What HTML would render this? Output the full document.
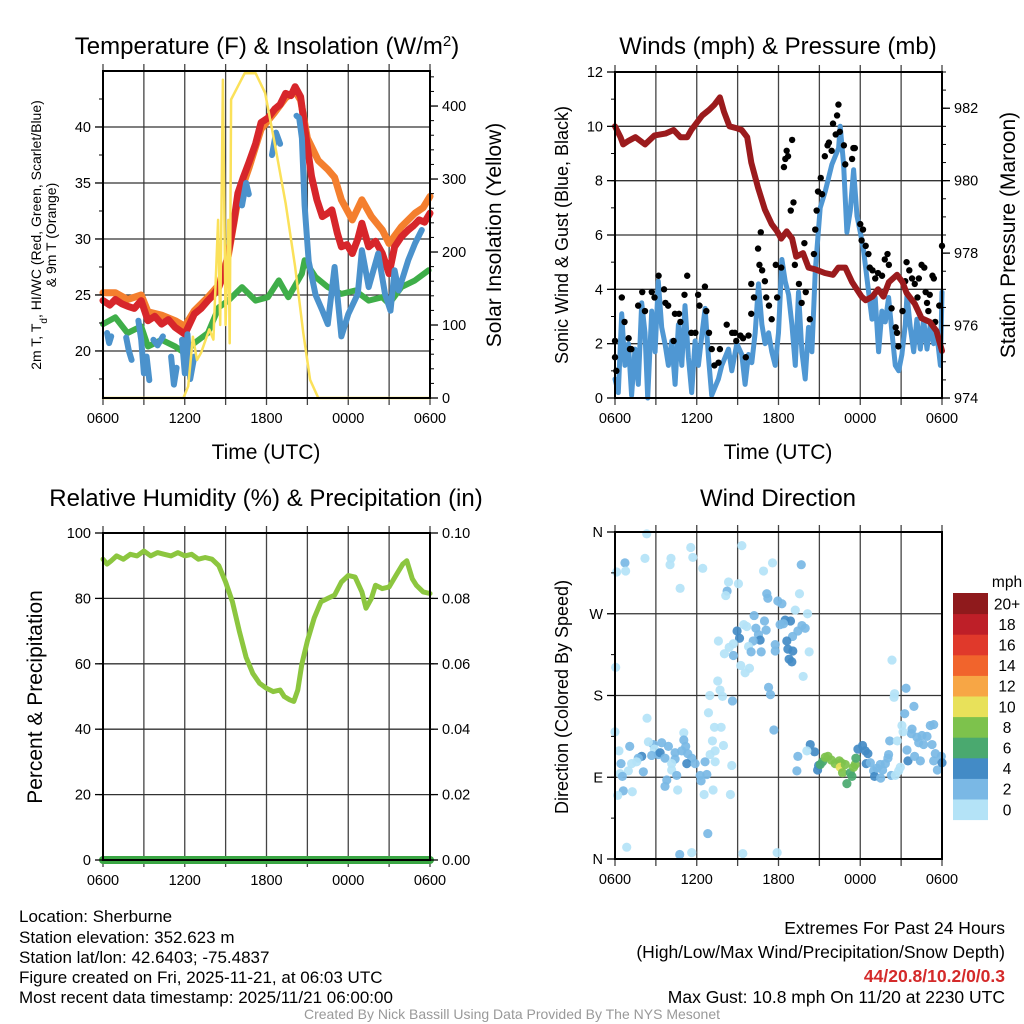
<!DOCTYPE html>
<html><head><meta charset="utf-8"><style>
html,body{margin:0;padding:0;background:#fff;}
svg{display:block;font-family:"Liberation Sans",Arial,sans-serif;}
</style></head><body>
<svg id="chart" width="1024" height="1024" viewBox="0 0 1024 1024" xmlns="http://www.w3.org/2000/svg">
<rect width="1024" height="1024" fill="#fff"/>
<g id="layer"></g>
<text x="267" y="54" font-size="24" text-anchor="middle">Temperature (F) &amp; Insolation (W/m<tspan baseline-shift="super" font-size="15">2</tspan>)</text>
<text x="778" y="54" font-size="24" text-anchor="middle">Winds (mph) &amp; Pressure (mb)</text>
<text x="266" y="506" font-size="24" text-anchor="middle">Relative Humidity (%) &amp; Precipitation (in)</text>
<text x="778" y="506" font-size="24" text-anchor="middle">Wind Direction</text>
<text x="266" y="459" font-size="21" text-anchor="middle">Time (UTC)</text>
<text x="778" y="459" font-size="21" text-anchor="middle">Time (UTC)</text>
<text transform="translate(41,235) rotate(-90)" font-size="14" text-anchor="middle">2m T, T<tspan baseline-shift="sub" font-size="10">d</tspan>, HI/WC (Red, Green, Scarlet/Blue)</text>
<text transform="translate(56,235) rotate(-90)" font-size="14" text-anchor="middle">&amp; 9m T (Orange)</text>
<text transform="translate(501,235) rotate(-90)" font-size="21" text-anchor="middle">Solar Insolation (Yellow)</text>
<text transform="translate(568,235) rotate(-90)" font-size="18" text-anchor="middle">Sonic Wind &amp; Gust (Blue, Black)</text>
<text transform="translate(1015,235) rotate(-90)" font-size="21" text-anchor="middle">Station Pressure (Maroon)</text>
<text transform="translate(42,697) rotate(-90)" font-size="21" text-anchor="middle">Percent &amp; Precipitation</text>
<text transform="translate(568,697) rotate(-90)" font-size="18" text-anchor="middle">Direction (Colored By Speed)</text>
<g font-size="17">
<text x="19" y="922">Location: Sherburne</text>
<text x="19" y="943">Station elevation: 352.623 m</text>
<text x="19" y="963">Station lat/lon: 42.6403; -75.4837</text>
<text x="19" y="983">Figure created on Fri, 2025-11-21, at 06:03 UTC</text>
<text x="19" y="1003">Most recent data timestamp: 2025/11/21 06:00:00</text>
</g>
<g font-size="17.5" text-anchor="end">
<text x="1005" y="934">Extremes For Past 24 Hours</text>
<text x="1005" y="958">(High/Low/Max Wind/Precipitation/Snow Depth)</text>
<text x="1005" y="982" fill="#d42a2a" font-weight="bold">44/20.8/10.2/0/0.3</text>
<text x="1005" y="1003">Max Gust: 10.8 mph On 11/20 at 2230 UTC</text>
</g>
<text x="512" y="1019" font-size="14" fill="#999" text-anchor="middle">Created By Nick Bassill Using Data Provided By The NYS Mesonet</text>
</svg>
<script>
// ---- Temperature panel data (hours since 0600 UTC) ----
const redHours=[0,0.5,0.9,1.4,1.8,2.3,2.8,3.3,3.8,4.3,4.8,5.3,6,6.7,7.2,7.7,8.1,8.5,8.9,9.2,9.6,9.9,10.3,10.7,11.2,11.6,12.1,12.6,13,13.4,13.8,14.1,14.5,14.8,15.3,15.7,16.1,16.5,16.8,17.2,17.5,17.9,18.3,18.7,19,19.5,20,20.5,21,21.4,21.9,22.4,22.8,23.2,23.6,24];
const redVals=[24.5,24.1,24.6,24.2,24,23.8,24.5,22.7,23.1,22.4,22.8,22.1,21.5,23.3,23.8,24.5,25,25.7,27,28.7,31.5,34.1,35.5,36.8,38.5,40.4,40.8,41.6,42,43,42.8,43.6,42.7,40,35.6,33.5,32,32.3,32.6,30.5,29.3,29.5,28.7,30,31.4,29.3,29.8,28.7,26.9,29.3,30.2,30.8,31.2,31.7,31.5,32.3];
const orangeHours=[0,0.9,1.8,2.8,3.3,4.3,5.3,6,6.7,7.7,8.5,9.2,9.9,10.7,11.6,12.6,13.4,14.1,14.5,15,15.8,16.5,17,17.5,18.3,19,19.7,20.5,21,21.9,22.9,23.5,24];
const orangeVals=[25.2,25.2,24.6,25,23.5,23.2,22.7,22.2,23.6,24.8,25.9,28.5,33.5,36.3,39.8,41.3,42.6,43.2,42.4,39,37,36.2,35.5,33.5,31.7,33.5,32,30.8,29.6,31.1,32.3,32.8,33.8];
const blueHours=[0.3,0.45,0.6,1.0,1.7,1.9,2.1,2.3,2.6,2.8,3.0,3.2,3.4,3.5,3.7,4.0,4.4,4.6,5.0,5.2,5.4,5.6,5.8,6.0,6.2,6.4,6.7,7,10.2,10.5,10.7,11,12.4,12.7,13.0,13.5,14.2,14.4,14.6,14.8,15.1,15.6,16.1,16.5,17,17.5,18,18.7,19,19.5,20.2,20.7,21.1,21.4,21.7,22.4,22.9,23.4];
const blueVals=[21.6,20.7,21.3,null,21.2,20,19.2,null,22.7,21,18,19.5,17.4,null,21,20.5,21.3,null,19.5,17,18.5,null,21,18,21.5,17.5,19.5,null,33,35,34,null,37.5,39.5,38.5,null,41,40.8,39,33,28,25,23.6,22.4,27.5,21.3,23.3,25.1,29,25.7,28.7,25.1,23.6,27.2,25.4,28.1,29.6,30.8];
const greenHours=[0,0.9,1.8,2.8,3.3,4.3,5.3,6,6.7,7.7,8.5,9.2,10.2,11.2,12.1,12.9,13.6,14.6,14.8,15.6,16.5,17.5,18.5,19.5,20.5,21,21.9,22.9,23.9];
const greenVals=[22.4,23,21.6,22.2,20.4,21,20.4,19.8,20.7,21.6,23.9,24.5,25.7,24.5,24.8,26.3,24.8,26.9,28.1,26.6,25.7,25.1,25.4,24.5,24.8,24.2,25.7,26.3,27.2];
const solarHours=[0,5.9,6.25,6.6,6.9,7.2,7.8,8.1,8.45,8.6,8.8,9.0,9.2,9.3,9.4,9.9,10.4,11.2,11.9,12.6,13.4,14.1,14.7,15.2,15.8,24];
const solarVals=[0,0,16,84,52,62,94,80,244,100,436,100,244,75,409,427,445,445,418,349,267,180,89,25,0,0];
const tempTicks=[20,25,30,35,40];
const solarTicks=[0,100,200,300,400];
const timeLabels=["0600","1200","1800","0000","0600"];
// ---- Winds panel data ----
const windHours=[0,0.24,0.49,0.73,0.98,1.22,1.47,1.71,1.96,2.2,2.4,2.69,2.94,3.18,3.43,3.67,3.92,4.16,4.41,4.65,4.9,5.14,5.39,5.63,5.88,6.12,6.37,6.61,6.86,7.1,7.59,7.84,8.33,8.57,8.94,9.31,9.55,9.8,10.04,10.29,10.53,10.78,11.02,11.27,11.51,11.76,12.0,12.25,12.49,12.74,12.98,13.23,13.47,13.72,13.96,14.2,14.45,14.7,15.06,15.43,15.92,16.41,16.53,16.78,17.02,17.27,17.51,17.76,18.0,18.25,18.61,18.86,19.1,19.35,19.59,19.84,20.08,20.33,20.57,20.82,21.06,21.31,21.43,21.67,21.92,22.16,22.41,22.65,22.9,23.14,23.39,23.63,23.88,24];
const windVals=[0.7,0.2,3.1,1.2,2.0,0.1,1.8,0.5,3.5,2.4,0,3.2,1.7,4.3,2.6,2.0,1.2,2.1,0.5,2.7,1.2,3.4,1.5,0.2,2.1,1.2,2.3,3.3,1.5,0.1,0.7,1.2,1.8,1.0,2.0,1.6,0.5,1.6,1.3,2.4,4.2,2.7,2.0,2.4,1.7,1.2,2.4,5.1,4.3,3.8,2.7,1.2,3.9,1.7,0.7,2.6,1.7,4.7,7.0,7.6,8.6,9.2,10.0,8.6,6.1,6.9,8.4,6.7,6.1,5.4,3.9,2.9,3.7,1.7,3.2,2.8,3.7,2.4,1.2,1.0,1.6,2.7,3.8,2.6,1.7,2.9,1.8,2.9,1.8,2.7,2.0,2.3,1.2,3.9];
const gustHours=[0,0,0.1,0.5,0.7,1.0,1.1,1.2,1.7,2.0,2.2,2.7,2.9,3.2,3.6,3.7,3.9,4.3,4.4,4.7,4.8,5.1,5.3,5.6,5.9,6.1,6.2,6.6,6.7,6.9,7.1,7.3,7.6,7.7,8.2,8.6,8.8,8.9,9.2,9.4,9.6,9.8,10.0,10.2,10.0,10.5,10.6,10.7,10.8,11.0,11.1,11.3,11.5,11.8,11.9,12.2,12.4,12.5,12.6,12.7,12.9,13.0,13.1,13.2,13.5,13.7,13.9,14.0,14.3,14.6,14.7,14.8,14.9,15.1,15.2,15.4,15.6,15.7,15.9,16.0,16.2,16.3,16.4,16.5,16.8,16.9,17.4,17.5,17.6,18.0,18.1,18.2,18.4,18.6,18.7,18.9,19.1,19.3,19.6,19.8,20.0,20.1,20.3,20.6,20.7,20.8,21.1,21.3,21.4,21.6,21.8,22.0,22.2,22.3,22.5,22.7,22.8,22.9,23.0,23.1,23.3,23.4,23.5,23.8,24.0];
const gustVals=[2.1,1.5,1.0,3.7,2.8,2.2,1.8,1.8,3.4,3.9,3.2,3.9,3.7,4.5,4.0,3.5,3.4,2.1,3.1,3.1,2.8,3.8,4.5,2.4,2.4,3.8,3.4,4.1,3.2,2.4,1.8,1.2,1.3,1.8,2.7,2.4,2.4,2.1,2.3,2.2,1.5,2.3,3.1,3.7,4.2,5.5,4.9,6.1,4.7,4.3,3.7,3.4,2.9,4.9,3.7,4.8,8.5,8.8,9.1,8.9,6.9,9.5,7.2,4.9,4.2,3.5,5.7,3.9,2.9,5.3,6.2,6.9,7.6,8.1,7.5,8.9,9.3,9.4,9.1,10.1,9.7,10.4,10.8,9.8,9.3,8.6,8.8,9.2,9.2,6.4,5.8,6.2,5.6,5.3,4.8,4.7,4.4,4.6,4.5,5.1,5.3,4.9,3.3,2.6,2.4,1.9,3.2,4.3,5.0,4.7,4.4,4.2,3.7,4.4,4.9,4.8,3.9,3.5,3.2,3.8,4.5,4.4,2.8,3.4,5.6];
const presHours=[0,0.4,0.6,1.0,1.5,2.2,2.9,3.7,4.3,4.8,5.3,5.6,6.4,6.9,7.3,7.7,8.0,8.4,8.9,9.3,9.7,10.0,10.5,11.0,11.5,11.9,12.2,12.6,13.0,13.3,13.8,14.2,14.7,15.4,16.0,16.4,16.9,17.4,18.1,18.4,18.9,19.3,19.7,20.1,20.7,21.1,21.4,22.0,22.5,23.1,23.6,24.0];
const presVals=[981.5,981.2,981.0,981.1,981.2,981.0,981.25,981.3,981.4,981.2,981.2,981.4,981.8,981.95,982.1,982.3,981.9,981.5,981.45,981.4,981.2,980.5,979.8,979.2,978.8,978.6,978.4,978.6,978.4,977.9,978.0,977.6,977.55,977.45,977.4,977.6,977.6,977.2,976.8,976.7,976.8,977.0,976.8,977.2,977.4,977.2,976.9,976.6,976.2,976.1,975.85,975.3];
const windTicks=[0,2,4,6,8,10,12];
const presTicks=[974,976,978,980,982];
// ---- Humidity panel data ----
const rhHours=[0,0.3,0.6,1,1.5,2,2.5,3,3.5,4,4.5,5,5.5,6,6.5,7,7.5,8,8.5,9,9.5,10,10.5,11,11.5,12,12.5,13,13.3,13.7,14,14.3,14.6,15,15.5,16,16.5,17,17.5,18,18.5,19,19.3,19.7,20,20.5,21,21.5,22,22.3,22.7,23,23.5,24];
const rhVals=[92,90.5,91.5,93,92,93.5,93,94.5,93,94,93.5,93,94,93,93.5,92,92.5,92,90,85,79,70,62,57,54,52.5,51.5,52,50,49,48.5,52,60,67,74,79,80,81,85,87,86.5,82,77,80,84,83,83.5,87,90.5,91.5,86,84,82,81.5];
const precipHours=[0,24];
const precipVals=[0,0];
const rhTicks=[0,20,40,60,80,100];
const precipTicks=["0.00","0.02","0.04","0.06","0.08","0.10"];
// ---- Wind direction panel data ----
const dirHours=[2.33,0.73,0.12,0.78,2.2,4.11,4.04,5.56,5.71,4.78,6.44,9.31,10.9,11.56,13.67,8.33,9.06,8.23,8.13,11.14,11.22,11.95,12.25,13.54,13.23,14.13,10.21,10.97,9.45,9.67,12.49,12.88,12.37,12.12,13.72,13.96,13.42,13.03,8.96,10.34,11.09,10.53,10.65,10.14,9.14,7.59,8.69,8.38,9.8,9.99,10.73,11.76,11.76,12.61,12.69,13.05,12.78,12.98,14.25,8.03,8.69,9.23,9.87,9.55,13.81,20.33,0.05,7.54,7.71,7.89,6.96,11.27,11.41,8.62,21.36,20.48,20.52,21.94,21.26,2.35,6.86,7.3,7.79,11.66,0,5.05,7.15,7.96,5.05,5.19,21.06,21.8,21.75,22.16,22.53,22.9,23.14,23.39,22.29,22.65,23.27,21.14,20.16,20.72,1.08,0.29,2.82,3.43,3.92,2.45,2.89,4.41,4.9,5.34,5.63,1.96,1.71,2.69,3.18,3.31,4.41,3.67,4.16,5.27,5.88,6.61,7.35,6.98,7.35,8.57,0.44,1.22,1.59,0.98,2.08,4.16,4.53,3.8,3.67,6.25,6.74,6.32,0.37,0.54,0.61,0.2,1.27,4.6,6.54,7.2,8.47,14.33,14.65,13.42,13.35,14.08,14.94,14.87,15.23,15.06,15.43,15.63,15.87,16.16,16.46,16.61,16.53,16.9,16.7,17.27,17.39,17.02,17.51,17.63,17.68,17.83,18.17,18.37,18.56,18.44,18.74,18.98,19.05,19.23,19.47,19.64,19.84,20.03,20.08,19.5,20.28,20.57,20.82,20.94,21.43,21.5,21.99,22.41,23.39,23.51,23.66,23.95,24,6.81,0.86,4.75,5.63,9.38,11.9];
const dirVals=[358,326,316,317,331,331,324,343,332,298,320,345,317,326,324,305,303,295,290,292,287,284,281,292,274,270,268,262,258,256,263,262,259,258,257,254,251,245,251,254,252,247,241,240,243,240,237,233,234,228,228,236,229,240,231,229,220,217,228,226,224,213,210,205,201,219,211,196,186,179,180,189,181,174,188,178,182,168,160,155,161,145,145,142,140,139,130,125,131,124,147,143,138,134,136,135,147,148,128,126,126,140,130,130,124,119,126,128,124,129,121,117,119,116,111,113,111,114,115,117,110,111,105,105,105,107,107,115,119,103,105,105,107,97,96,98,92,87,80,92,93,86,94,91,75,70,74,76,71,76,71,126,118,113,97,119,103,98,107,104,112,113,109,105,108,106,101,104,95,95,91,83,101,104,111,121,125,119,116,105,106,97,91,100,104,98,105,111,115,89,92,92,97,101,120,108,113,108,108,116,98,113,106,28,13,5,7,6,7];
const dirSpeeds=[1,3,1,1,1,1,1,1,1,1,1,1,1,1,3,1,1,3,1,3,3,3,3,1,1,1,3,3,1,1,5,5,3,3,3,3,3,3,5,3,3,3,5,3,5,1,1,1,1,3,3,3,3,5,5,5,5,5,1,1,3,1,1,1,1,1,1,1,1,1,1,3,3,3,3,1,1,3,3,1,1,1,1,3,1,1,1,1,3,3,1,3,3,3,3,3,3,3,3,3,3,1,3,1,3,1,3,3,3,1,1,3,3,3,3,5,3,3,3,5,3,3,1,5,3,3,1,1,1,1,3,1,1,1,3,1,3,3,3,3,3,3,1,3,3,1,1,1,1,1,1,5,5,3,3,1,5,5,7,7,9,9,9,9,9,9,11,9,9,7,7,7,9,9,7,5,5,5,5,5,3,3,5,3,3,3,3,3,3,3,3,1,1,1,3,5,3,3,3,3,3,3,5,3,1,3,1,1,1];
const dirTicks=["N","E","S","W","N"];
const speedLabels=["0","2","4","6","8","10","12","14","16","18","20+"];
const speedColors=["#b4e3f7","#7ab8e5","#438bc6","#4aa96f","#7dc24c","#e8e15a","#f7a645","#f1642c","#e0392b","#be1f28","#8f1a1c"];

const NS="http://www.w3.org/2000/svg";
const layer=document.getElementById('layer');
function mk(tag,attrs,parent){const e=document.createElementNS(NS,tag);for(const k in attrs)e.setAttribute(k,attrs[k]);(parent||layer).appendChild(e);return e;}
function lin(d0,d1,r0,r1){return v=>r0+(v-d0)/(d1-d0)*(r1-r0);}

function frame(P,name){
  const g=mk('g',{});
  
  
  for(let h=0;h<=24;h+=3){
    const x=P.x(h);
    const l=mk('line',{x1:x,x2:x,y1:P.y0-7,y2:P.y1+7,stroke:'#444','stroke-width':1.3},g);
    
    
  }
  for(let i=0;i<timeLabels.length;i++){
    const t=mk('text',{x:P.x(i*6),y:P.y1+25,'font-size':14.5,'text-anchor':'middle'},g);
    t.textContent=timeLabels[i];
    
    
  }
  return g;
}
function hgrid(g,P,ys){ys.forEach(y=>{const l=mk('line',{x1:P.x0,x2:P.x1,y1:y,y2:y,stroke:'#333','stroke-width':1.3},g);
  
  });}
function box(P){const r=mk('rect',{x:P.x0,y:P.y0,width:P.x1-P.x0,height:P.y1-P.y0,fill:'none',stroke:'#000','stroke-width':2});
  
  }
function leftAxis(P,ticks,labels,minorStep,lo,hi,name){
  const g=mk('g',{});
  
  
  for(let v=lo;v<=hi+1e-9;v+=minorStep){const y=P.ly(v);mk('line',{x1:P.x0-4,x2:P.x0,y1:y,y2:y,stroke:'#000','stroke-width':1},g);}
  ticks.forEach((v,i)=>{const y=P.ly(v);mk('line',{x1:P.x0-8,x2:P.x0,y1:y,y2:y,stroke:'#000','stroke-width':1.3},g);
    const t=mk('text',{x:P.x0-12,y:y+5,'font-size':14.5,'text-anchor':'end'},g);t.textContent=labels?labels[i]:v;
    
    });
}
function rightAxis(P,sc,ticks,labels,minorStep,lo,hi,name){
  const g=mk('g',{});
  
  
  for(let v=lo;v<=hi+1e-9;v+=minorStep){const y=sc(v);mk('line',{x1:P.x1,x2:P.x1+4,y1:y,y2:y,stroke:'#000','stroke-width':1},g);}
  ticks.forEach((v,i)=>{const y=sc(v);mk('line',{x1:P.x1,x2:P.x1+8,y1:y,y2:y,stroke:'#000','stroke-width':1.3},g);
    const t=mk('text',{x:P.x1+12,y:y+5,'font-size':14.5,'text-anchor':'start'},g);t.textContent=labels?labels[i]:v;
    
    });
}
function line(P,hs,vs,sc,color,w,name){
  let d='',pen=false;
  for(let i=0;i<hs.length;i++){
    if(vs[i]===null){pen=false;continue;}
    d+=(pen?'L':'M')+P.x(hs[i]).toFixed(1)+' '+sc(vs[i]).toFixed(1)+' ';pen=true;
  }
  const p=mk('path',{d:d,fill:'none',stroke:color,'stroke-width':w,'stroke-linejoin':'round','stroke-linecap':'round'});
  
  
  return p;
}

// Panel 1: temperature
const P1={x0:103,x1:430,y0:71,y1:398};P1.x=lin(0,24,P1.x0,P1.x1);P1.ly=lin(15.8,45,P1.y1,P1.y0);
const sol=lin(0,448,P1.y1,P1.y0);
let g1=frame(P1,'temperature');hgrid(g1,P1,tempTicks.map(P1.ly));
line(P1,orangeHours,orangeVals,P1.ly,'#f47f2e',7,'line-9m-temp');
line(P1,redHours,redVals,P1.ly,'#d7262b',7,'line-2m-temp');
line(P1,greenHours,greenVals,P1.ly,'#3fae49',6,'line-dewpoint');
line(P1,blueHours,blueVals,P1.ly,'#4b92cc',6,'line-wind-chill');
line(P1,solarHours,solarVals,sol,'#fbe15a',2.5,'line-solar-insolation');
box(P1);
leftAxis(P1,tempTicks,null,2.5,17.5,42.5,'temperature-left-axis');
rightAxis(P1,sol,solarTicks,null,20,0,440,'solar-right-axis');

// Panel 2: winds
const P2={x0:615,x1:942,y0:72,y1:398};P2.x=lin(0,24,P2.x0,P2.x1);P2.ly=lin(0,12,P2.y1,P2.y0);
const pres=lin(974,983,P2.y1,P2.y0);
let g2=frame(P2,'winds');hgrid(g2,P2,windTicks.map(P2.ly));
line(P2,windHours,windVals,P2.ly,'#4f97d3',5,'line-sonic-wind');
const gg=mk('g',{});


for(let i=0;i<gustHours.length;i++){
  const c=mk('circle',{cx:P2.x(gustHours[i]),cy:P2.ly(gustVals[i]),r:3.2,fill:'#000'},gg);
  
  
}
line(P2,presHours,presVals,pres,'#9b1b1d',6,'line-station-pressure');
box(P2);
leftAxis(P2,windTicks,null,1,0,12,'wind-left-axis');
rightAxis(P2,pres,presTicks,null,0.5,974,983,'pressure-right-axis');

// Panel 3: humidity
const P3={x0:103,x1:430,y0:533,y1:860};P3.x=lin(0,24,P3.x0,P3.x1);P3.ly=lin(0,100,P3.y1,P3.y0);
const pr=lin(0,0.1,P3.y1,P3.y0);
let g3=frame(P3,'humidity');hgrid(g3,P3,rhTicks.map(P3.ly));
line(P3,rhHours,rhVals,P3.ly,'#8cc63f',5,'line-relative-humidity');
line(P3,precipHours,precipVals,pr,'#3aa643',8,'line-precipitation');
box(P3);
leftAxis(P3,rhTicks,null,20,0,100,'humidity-left-axis');
rightAxis(P3,pr,[0,0.02,0.04,0.06,0.08,0.1],precipTicks,0.02,0,0.1,'precip-right-axis');

// Panel 4: wind direction
const P4={x0:615,x1:942,y0:532,y1:859};P4.x=lin(0,24,P4.x0,P4.x1);P4.ly=lin(0,360,P4.y1,P4.y0);
let g4=frame(P4,'wind-direction');hgrid(g4,P4,[90,180,270].map(P4.ly));
const dg=mk('g',{});


for(let i=0;i<dirHours.length;i++){
  const ci=Math.min(10,Math.floor(dirSpeeds[i]/2));
  const c=mk('circle',{cx:P4.x(dirHours[i]),cy:P4.ly(dirVals[i]),r:4.6,fill:speedColors[ci],'fill-opacity':0.92},dg);
  
  
}
box(P4);
leftAxis(P4,[0,90,180,270,360],dirTicks,45,0,360,'direction-left-axis');

// Colorbar
const cb=mk('g',{});


const cbTop=593,cbH=20.6;
for(let i=0;i<speedColors.length;i++){
  const y=cbTop+(speedColors.length-1-i)*cbH;
  const r=mk('rect',{x:953,y:y,width:35,height:cbH+0.5,fill:speedColors[i]},cb);
  
  
  const t=mk('text',{x:1007,y:y+cbH/2+6,'font-size':15.5,'text-anchor':'middle'},cb);
  t.textContent=speedLabels[i];
  
  
}
const ut=mk('text',{x:1007,y:587,'font-size':15.5,'text-anchor':'middle'},cb);ut.textContent='mph';


</script>
</body></html>
